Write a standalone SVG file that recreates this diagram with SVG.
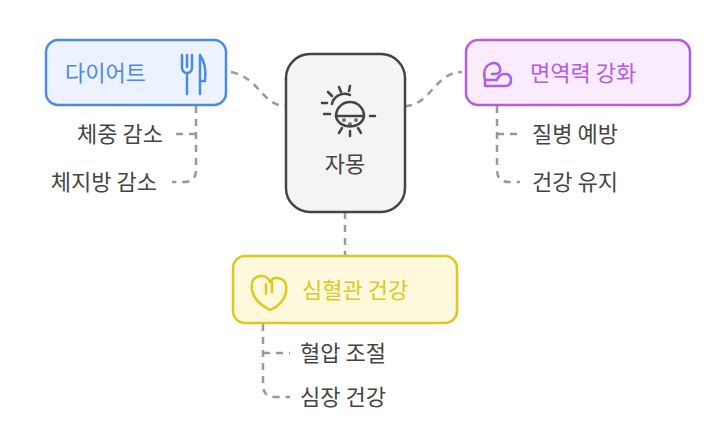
<svg xmlns="http://www.w3.org/2000/svg" width="718" height="436" viewBox="0 0 718 436">
<style>
text{font-family:"Noto Sans CJK KR","Noto Sans",sans-serif;font-size:22px;fill:#444}
.c path{fill:none;stroke:#999;stroke-width:2.5;stroke-dasharray:7 6}
.ic{fill:none;stroke-width:2.5;stroke-linecap:round;stroke-linejoin:round}
</style>
<g class="c">
<path d="M231,72 C260,78 262,106 286,106"/>
<path d="M405,106 C430,106 435,72 462,72"/>
<path d="M345,212 V255"/>
<path d="M196,106 V170 Q196,182 184,182 H172"/>
<path d="M196,134 H172"/>
<path d="M497,106 V170 Q497,182 509,182 H520"/>
<path d="M497,134 H520"/>
<path d="M263,324 V385 Q263,397 275,397 H290"/>
<path d="M263,353 H290"/>
</g>
<g id="center">
<rect x="286" y="54" width="119" height="158" rx="24" fill="#f4f4f4" stroke="#444" stroke-width="2.5"/>
<g class="ic" stroke="#444">
<path d="M336,116 A14,14 0 0 1 364,116 Z"/>
<path d="M336,116 C338,130 362,130 364,116"/>
<path d="M332,104 A13,13 0 0 1 350,95"/>
<path d="M339,87 l2,5 M328,92 l4,4 M322,103 h5 M350,86 l-1,5 M324,114 h6 M370,116 h5 M342,128 l-3,5 M358,128 l3,5 M350,131 v5"/>
<circle cx="344" cy="120" r="0.6" fill="#444"/><circle cx="356" cy="120" r="0.6" fill="#444"/><circle cx="350" cy="124" r="0.6" fill="#444"/>
</g>
<text x="345" y="172" text-anchor="middle">자몽</text>
</g>
<g id="diet">
<rect x="46" y="40" width="180" height="65" rx="12" fill="#ecf3fe" stroke="#4a8ae8" stroke-width="2.5"/>
<text x="65" y="81" style="fill:#4a8ae8">다이어트</text>
<g class="ic" stroke="#4a8ae8"><path d="M182,55 v12 q0,6 5,6 v21 M187,55 v12 M192,55 v12 q0,6 -5,6"/><path d="M200,55 q7,10 5,26 h-5 Z M200,81 v13"/></g>
</g>
<text x="163" y="142" text-anchor="end">체중 감소</text>
<text x="157" y="190" text-anchor="end">체지방 감소</text>
<g id="immune">
<rect x="466" y="40" width="224" height="65" rx="12" fill="#f8ecfd" stroke="#b45ae4" stroke-width="2.5"/>
<g class="ic" stroke="#b45ae4"><path d="M485,80 q-3,-12 5,-16 q8,-3 10,4 q1,6 -5,6 l-3,0 M485,80 h12 q2,-6 8,-6 q6,0 6,6 q0,6 -6,6 h-20 Z"/></g>
<text x="530" y="81" style="fill:#b45ae4">면역력 강화</text>
</g>
<text x="532" y="142">질병 예방</text>
<text x="532" y="190">건강 유지</text>
<g id="heart">
<rect x="233" y="256" width="224" height="67" rx="12" fill="#fef9dc" stroke="#dcc81e" stroke-width="2.5"/>
<g class="ic" stroke="#dcc81e"><path d="M262,276 q-12,0 -10,14 q2,12 18,20 q14,-6 16,-18 q2,-14 -10,-14 q-4,0 -6,4 q-3,-6 -8,-6 M266,284 v10 M272,282 v10"/></g>
<text x="302" y="298" style="fill:#dcc81e">심혈관 건강</text>
</g>
<text x="300" y="361">혈압 조절</text>
<text x="300" y="405">심장 건강</text>
</svg>
